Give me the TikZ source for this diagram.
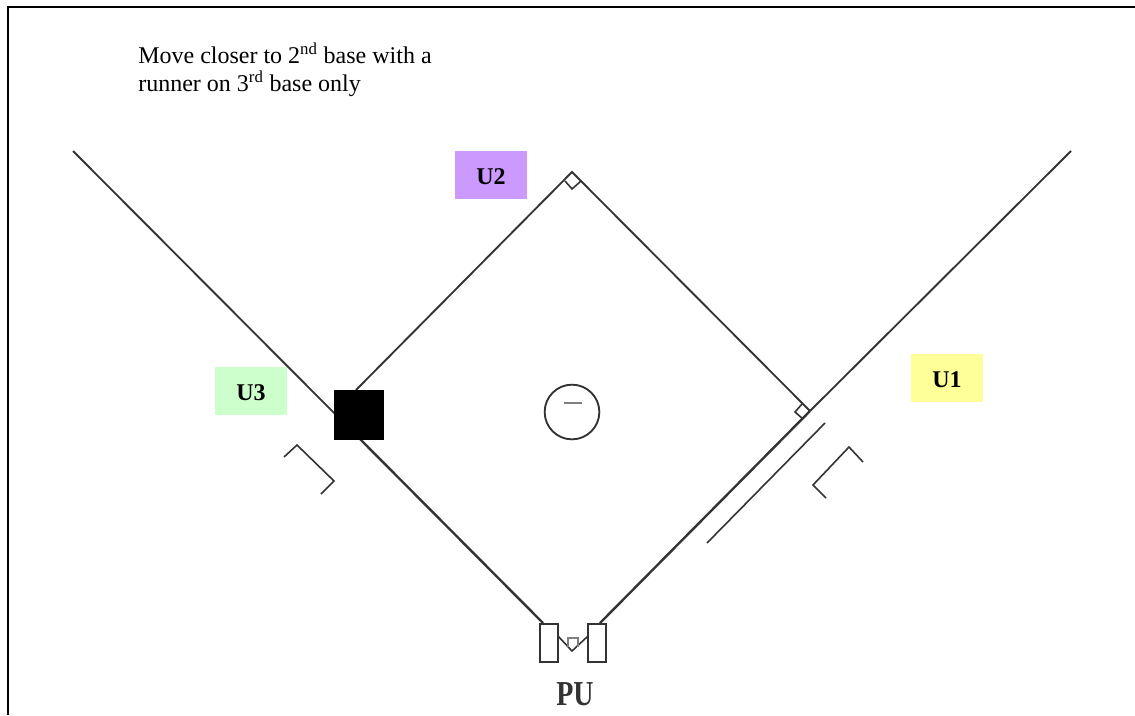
\documentclass[tikz,border=0pt]{standalone}
\usepackage{fontspec}
\setmainfont{Liberation Serif}
\definecolor{fieldline}{HTML}{333333}
\definecolor{umpviolet}{HTML}{CC99FF}
\definecolor{umpgreen}{HTML}{CCFFCC}
\definecolor{umpyellow}{HTML}{FFFF99}

\begin{document}
\begin{tikzpicture}[
  x=0.75pt,y=-0.75pt,
  fieldline/.style={draw=fieldline,line width=1.4pt},
  thickline/.style={draw=fieldline,line width=1.8pt},
  thinline/.style={draw=fieldline,line width=1.2pt},
  umpire/.style={minimum width=54pt,minimum height=36pt,inner sep=0pt,text height=14pt,text depth=0pt,font=\fontsize{18}{20}\selectfont\bfseries},
  plateman/.style={draw=fieldline,line width=1pt,fill=white,minimum width=13.5pt,minimum height=28.5pt,inner sep=0pt}
]
  \useasboundingbox (0,0) rectangle (1135,715);

  % frame
  \coordinate (frameA) at (8,715);
  \coordinate (frameB) at (8,7);
  \coordinate (frameC) at (1135,7);
  \draw[black,line width=1.5pt] (frameA) -- (frameB) -- (frameC);

  % bases
  \coordinate (second) at (572,172);
  \coordinate (first) at (810,411);
  \coordinate (third) at (359,438);
  \coordinate (thirdtop) at (356,390);
  \coordinate (leftfoul) at (73,151);
  \coordinate (rightfoul) at (1071,151);

  % plate umpire boxes
  \node[plateman] (boxL) at (549,643) {};
  \node[plateman] (boxR) at (597,643) {};
  \coordinate (homeL) at (543,623);
  \coordinate (homeR) at (600,623);

  % field
  \draw[fieldline] (leftfoul) -- (third);
  \draw[thickline] (third) -- (homeL);
  \draw[fieldline] (rightfoul) -- (first);
  \draw[thickline] (first) -- (homeR);
  \draw[fieldline] (thirdtop) -- (second) -- (first);

  % right angles
  \draw[thinline] (565,181) -- (572,189) -- (581,181);
  \draw[thinline] (802,404) -- (795,412) -- (803,419);

  % home plate
  \coordinate (plateL) at (558,636);
  \coordinate (plateTip) at (572,651);
  \coordinate (plateR) at (588,636);
  \draw[thinline] (plateL) -- (plateTip) -- (plateR);
  \draw[draw=gray,line width=1pt] (568,647) -- (568,638) -- (578,638) -- (578,647);

  % fence
  \coordinate (fenceA) at (825,423);
  \coordinate (fenceB) at (707,543);
  \draw[thinline] (fenceA) -- (fenceB);

  % dugouts
  \draw[thinline] (863,462) -- (849,447) -- (813,485) -- (826,498);
  \draw[thinline] (284,457) -- (297,445) -- (334,481) -- (321,494);

  % runner
  \node[fill=black,minimum size=37.5pt,inner sep=0pt] (runner) at (359,415) {};

  % pitcher
  \node[circle,draw=fieldline,line width=1.4pt,minimum size=41pt,inner sep=0pt] (mound) at (572,412) {};
  \coordinate (rubberA) at (564,403);
  \coordinate (rubberB) at (582,403);
  \draw[draw=gray,line width=1.3pt] (rubberA) -- (rubberB);

  % umpires
  \node[umpire,fill=umpviolet] (U2) at (491,175) {U2};
  \node[umpire,fill=umpgreen] (U3) at (251,391) {U3};
  \node[umpire,fill=umpyellow] (U1) at (947,378) {U1};
  \node[font=\fontsize{21}{21}\selectfont\bfseries,inner sep=0pt,text=fieldline] (PU) at (575,694) {\scalebox{1}[1.25]{PU}};

  \node[anchor=north west,inner sep=0pt,align=left,font=\fontsize{18}{21}\selectfont] (note) at (138,43)
    {Move closer to 2\textsuperscript{nd} base with a\\runner on 3\textsuperscript{rd} base only};
\end{tikzpicture}
\end{document}
